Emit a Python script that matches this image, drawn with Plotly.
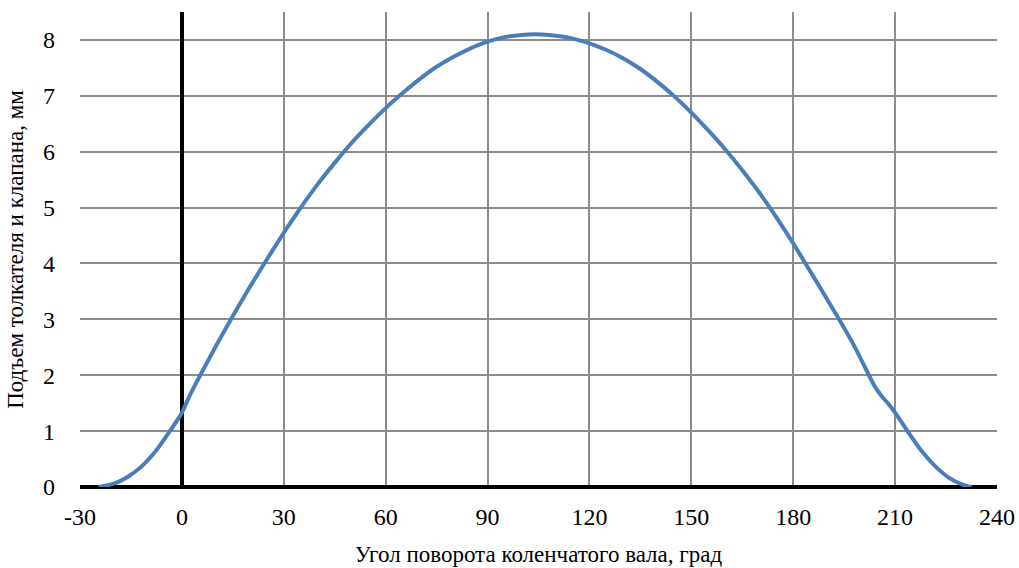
import plotly.graph_objects as go

angle = [-24.5, -20, -16, -12, -8, -4, 0, 2.4, 5.4, 10, 15, 20, 25, 30, 35,
         40, 45, 50, 55, 60, 65, 70, 75, 80, 85, 90, 95, 100, 104,
         108, 112, 116, 120, 125, 130, 135, 140, 145, 150, 155, 160, 165, 170,
         175, 180, 183.6, 188, 193.5, 198, 202.3, 204, 206, 208, 210, 212, 214,
         218, 222, 226, 230, 232.5]
lift = [0, 0.06, 0.18, 0.36, 0.62, 0.96, 1.33, 1.65, 2.0, 2.52, 3.06, 3.58, 4.07, 4.55, 5.0,
        5.42, 5.8, 6.16, 6.48, 6.78, 7.05, 7.3, 7.52, 7.7, 7.85, 7.97, 8.05, 8.09, 8.10,
        8.09, 8.06, 8.01, 7.94, 7.82, 7.67, 7.48, 7.25, 6.99, 6.70, 6.38, 6.04, 5.67, 5.27,
        4.83, 4.36, 4.0, 3.56, 3.0, 2.52, 2.0, 1.8, 1.63, 1.49, 1.33, 1.15, 0.97,
        0.63, 0.36, 0.16, 0.04, 0]

x_ticks = [-30, 0, 30, 60, 90, 120, 150, 180, 210, 240]
y_ticks = [0, 1, 2, 3, 4, 5, 6, 7, 8]

font_family = "Liberation Serif, Times New Roman, serif"

fig = go.Figure()
fig.add_trace(go.Scatter(x=angle, y=lift, mode="lines",
                         line=dict(color="#4a7ebb", width=4, shape="spline", smoothing=0.5),
                         showlegend=False, hoverinfo="skip"))

fig.update_layout(
    width=1019, height=568,
    margin=dict(l=80, r=22, t=12, b=81),
    paper_bgcolor="white", plot_bgcolor="white",
    font=dict(family=font_family, size=24, color="black"),
    xaxis=dict(range=[-30, 240], tickvals=x_ticks, ticktext=[str(v) for v in x_ticks],
               showgrid=True, gridcolor="#8c8c8c", gridwidth=1.5,
               zeroline=True, zerolinecolor="black", zerolinewidth=4,
               showline=False, ticks="", ticklabelstandoff=13, automargin=False,
               tickfont=dict(family=font_family, size=24),
               title=dict(text="Угол поворота коленчатого вала, град",
                          font=dict(family=font_family, size=23), standoff=16)),
    yaxis=dict(range=[0, 8.5], tickvals=y_ticks, ticktext=[str(v) for v in y_ticks],
               showgrid=True, gridcolor="#8c8c8c", gridwidth=1.5,
               zeroline=True, zerolinecolor="black", zerolinewidth=4,
               showline=False, ticks="", ticklabelstandoff=24, automargin=False,
               tickfont=dict(family=font_family, size=24),
               title=dict(text="Подъем толкателя и клапана, мм",
                          font=dict(family=font_family, size=23), standoff=12)),
)

fig.write_html("out.html")
